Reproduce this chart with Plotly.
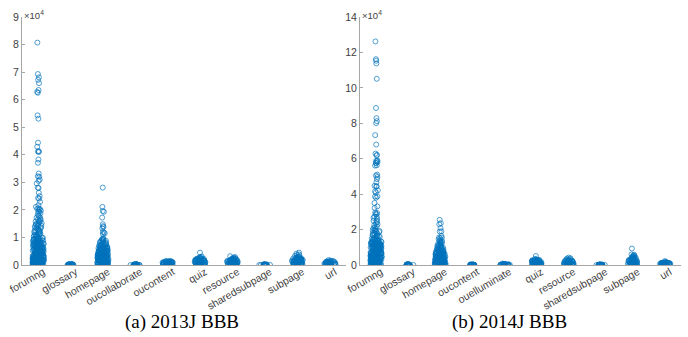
import plotly.graph_objects as go

# ---------------- categories ----------------
cats_2013 = ["forumng", "glossary", "homepage", "oucollaborate", "oucontent",
             "quiz", "resource", "sharedsubpage", "subpage", "url"]
cats_2014 = ["forumng", "glossary", "homepage", "oucontent", "ouelluminate",
             "quiz", "resource", "sharedsubpage", "subpage", "url"]

# ---------------- clicks per student, in hundreds of clicks : 2013J BBB ----------------
forumng_13 = [807,693,681,672,660,635,628,625,543,531,444,429,413,412,410,383,371,332,322,320,
              310,305,296,281,279,262,250,243,241,229,217,211,206,204,203,201,
              197,194,193,187,184,179,177,172,171,166,165,161,160,158,156,153,152,149,147,146,
              143,141,140,137,136,134,133,130,128,127,124,123,122,119,118,116,114,113,111,110,
              108,107,105,104,103,101,
              99,98,97,96,95,95,94,93,92,91,90,90,89,88,87,86,85,85,84,83,82,82,81,80,79,78,78,77,
              76,75,75,74,73,72,72,71,70,70,69,68,67,67,66,65,65,64,63,63,62,61,61,60,59,59,58,57,
              57,56,55,55,54,54,53,52,52,51,50,50,49,49,48,47,47,46,46,45,44,44,43,43,42,41,41,40,
              40,39,39,38,38,37,36,36,35,35,34,34,33,33,32,32,31,31,30,30,29,29,28,28,27,27,26,26,
              25,25,24,24,23,23,22,22,21,21,20,20,20,19,19,18,18,17,17,16,16,16,15,15,14,14,13,13,
              13,12,12,11,11,11,10,10,9,9,9,8,8,8,7,7,7,6,6,6,5,5,5,4,4,4,3,3,3,3,2,2,2,2,1,1,1,1,
              0,0,0,0,45,38,27,18,12,8,5,3,2,1,0,62,55,33,24,15,9,6,4,71,58,41,29,19,11,7,3,1,0]
glossary_13 = [3,3,3,2,2,2,2,2,1,1,1,1,1,1,1,0,0,0,0,0,0,1,2,0,1,2,0]
homepage_13 = [281,211,196,193,172,148,141,138,133,120,118,115,112,
               97,95,93,92,90,88,87,86,84,83,82,80,79,78,76,75,74,
               72,71,70,70,69,68,67,67,66,65,64,64,63,62,61,61,60,59,59,58,57,57,56,55,55,54,53,53,
               52,51,51,50,49,49,48,48,47,46,46,45,45,44,43,43,42,42,41,40,40,39,39,38,38,37,37,36,
               36,35,35,34,34,33,33,32,32,31,31,30,30,29,29,28,28,27,27,26,26,25,25,24,24,23,23,22,
               22,21,21,20,20,19,19,18,18,17,17,16,16,15,15,14,14,13,13,12,12,11,11,10,10,9,9,8,8,
               7,7,6,6,5,5,4,4,3,3,2,2,1,1,0,0,
               50,42,35,28,20,14,9,5,2,0,33,25,18,11,6,3,1,66,58,47,39,31,22,16,10,7,4,2,0]
oucollaborate_13 = [3,2,2,2,2,1,1,1,1,1,1,0,0,0,0,0,1,2,0,1,0,1,2,0]
oucontent_13 = [15,14,14,13,13,12,12,12,11,11,10,10,10,9,9,9,8,8,8,7,7,7,6,6,6,5,5,5,4,4,
                4,3,3,3,2,2,2,1,1,1,0,0,0,5,8,11,3,6,9,2]
quiz_13 = [45,31,29,27,26,25,24,23,22,22,21,20,20,19,19,18,17,17,16,16,15,15,14,14,13,13,12,12,
           11,11,10,10,9,9,8,8,7,7,6,6,5,5,4,4,3,3,2,2,1,1,0,0,12,16,21,8,4,18,14,10]
resource_13 = [32,29,27,25,24,23,22,21,21,20,19,19,18,18,17,17,16,16,15,15,14,14,13,13,12,12,11,
               11,10,10,9,9,8,8,7,7,6,6,5,5,4,4,3,3,2,2,1,1,0,0,9,13,17,6,3,11,15,20]
sharedsubpage_13 = [2,2,2,1,1,1,1,1,1,0,0,0,0,0,0,1,2,0,1,0,1,2]
subpage_13 = [45,41,38,36,33,32,30,28,27,26,25,25,24,23,23,22,22,21,20,20,19,19,18,18,17,17,16,16,
              15,15,14,14,13,13,12,12,11,11,10,10,9,9,8,8,7,7,6,6,5,5,4,4,3,3,2,2,1,1,0,0,
              12,18,22,8,4,15,20,11]
url_13 = [18,16,15,14,13,13,12,12,12,11,11,10,10,9,9,9,8,8,7,7,7,6,6,5,5,5,4,4,3,3,3,2,2,1,1,0,0,
          6,9,4,11,2]

# ---------------- clicks per student, in hundreds of clicks : 2014J BBB ----------------
forumng_14 = [1262,1162,1153,1138,1051,886,829,812,801,733,680,629,622,618,590,588,586,580,576,575,
              563,561,510,505,497,485,467,447,444,444,421,416,410,387,387,380,350,331,322,297,
              293,290,285,274,272,266,260,250,249,242,236,230,225,218,212,207,203,
              199,197,194,192,190,186,184,181,178,176,173,171,168,166,163,161,159,157,154,152,
              150,148,146,144,142,140,138,136,135,133,131,
              130,129,128,128,127,126,125,124,124,123,122,121,120,119,119,118,117,116,115,114,114,113,
              112,111,110,109,109,108,107,106,105,104,104,103,102,101,100,99,98,98,97,96,95,94,93,93,
              92,91,90,89,88,88,87,86,85,84,83,83,82,81,80,79,78,78,77,76,75,74,73,73,72,71,70,69,
              68,68,67,66,65,64,63,63,62,61,60,59,58,58,57,56,55,54,53,53,52,51,50,49,48,48,47,46,
              45,44,43,43,42,41,40,39,38,38,37,36,35,34,33,33,32,31,30,29,28,28,27,26,25,24,23,23,
              22,21,20,19,18,18,17,16,15,14,13,13,12,11,10,9,8,8,7,6,5,4,3,3,2,1,0,0,
              95,72,51,33,18,9,4,1,0,83,61,42,26,14,6,2,0,108,66,47,29,16,7,3,0]
glossary_14 = [4,3,3,3,2,2,2,2,1,1,1,1,1,0,0,0,0,0,1,2,0,1,3,0,2]
homepage_14 = [255,236,230,208,190,189,164,155,155,151,145,140,138,135,130,128,125,122,120,117,
               115,112,110,108,106,104,102,100,98,96,95,93,91,90,88,87,85,84,83,81,
               80,79,78,77,76,75,74,73,72,71,70,70,69,68,67,66,65,64,63,63,62,61,60,59,58,57,56,56,
               55,54,53,52,51,50,49,49,48,47,46,45,44,43,42,42,41,40,39,38,37,36,35,35,34,33,32,31,
               30,29,28,28,27,26,25,24,23,22,21,21,20,19,18,17,16,15,14,14,13,12,11,10,9,8,7,7,6,5,
               4,3,2,1,0,0,66,52,41,30,19,11,5,2,0,58,44,33,24,15,8,3,1,0,71,49,37,26,17,9,4,0]
oucontent_14 = [3,3,2,2,2,2,1,1,1,1,1,0,0,0,0,0,1,2,0,1,0,2]
ouelluminate_14 = [8,6,5,5,4,4,4,3,3,3,3,2,2,2,2,1,1,1,1,0,0,0,0,2,4,1,3,0]
quiz_14 = [51,34,32,30,29,28,27,26,25,25,24,23,22,22,21,20,20,19,18,18,17,17,16,15,15,14,14,13,
           12,12,11,11,10,9,9,8,8,7,6,6,5,5,4,3,3,2,2,1,0,0,15,22,27,8,4,19,12,30]
resource_14 = [42,38,36,33,31,29,28,27,25,24,23,22,22,21,20,19,18,18,17,16,16,15,14,14,13,12,12,
               11,11,10,9,9,8,7,7,6,6,5,4,4,3,3,2,1,1,0,0,12,19,25,6,3,15,21,10]
sharedsubpage_14 = [3,2,2,2,2,1,1,1,1,1,0,0,0,0,0,1,2,0,1,0,2,1]
subpage_14 = [93,60,58,55,52,49,47,45,43,41,40,38,37,35,34,33,31,30,29,28,27,26,25,24,23,22,21,20,
              19,18,18,17,16,15,14,13,12,11,10,9,8,7,6,5,5,4,3,3,2,1,1,0,0,25,36,42,15,8,31,20,11,4]
url_14 = [22,17,16,15,14,13,13,12,12,11,11,10,10,9,9,8,8,7,7,7,6,6,5,5,4,4,3,3,2,2,1,1,0,0,
          8,12,5,10,3]

series_2013 = [forumng_13, glossary_13, homepage_13, oucollaborate_13, oucontent_13,
               quiz_13, resource_13, sharedsubpage_13, subpage_13, url_13]
series_2014 = [forumng_14, glossary_14, homepage_14, oucontent_14, ouelluminate_14,
               quiz_14, resource_14, sharedsubpage_14, subpage_14, url_14]

yticks_2013 = [0, 1, 2, 3, 4, 5, 6, 7, 8, 9]
yticks_2014 = [0, 2, 4, 6, 8, 10, 12, 14]

BLUE = "#0072BD"
AXIS = "#a6a6a6"
TXT = "#404040"
FONT = "Liberation Sans"


def flatten(cats, series):
    xs, ys = [], []
    for c, vals in zip(cats, series):
        xs += [c] * len(vals)
        ys += [v / 100 for v in vals]   # hundreds of clicks -> units of 10^4
    return xs, ys


fig = go.Figure()
for cats, series, xa, ya in [(cats_2013, series_2013, "x", "y"),
                             (cats_2014, series_2014, "x2", "y2")]:
    xs, ys = flatten(cats, series)
    fig.add_trace(go.Box(
        x=xs, y=ys, xaxis=xa, yaxis=ya,
        boxpoints="all", jitter=0.72, pointpos=0,
        fillcolor="rgba(0,0,0,0)", line=dict(color="rgba(0,0,0,0)", width=0),
        marker=dict(symbol="circle-open", size=5, color=BLUE, opacity=0.8,
                    line=dict(color=BLUE, width=0.85)),
        hoveron="points", showlegend=False,
    ))

ydom = [(337 - 265) / 337, (337 - 17) / 337]
common_x = dict(showline=True, linecolor=AXIS, linewidth=1, showgrid=False, zeroline=False,
                tickangle=-30, tickfont=dict(family=FONT, size=10.5, color=TXT),
                ticklabelshift=5, ticklabelstandoff=-4,
                ticks="", range=[-0.5, 9.5], type="category", fixedrange=True, automargin=False)
common_y = dict(showline=True, linecolor=AXIS, linewidth=1, showgrid=False, zeroline=False,
                ticks="inside", ticklen=3, tickcolor=AXIS, automargin=False,
                tickfont=dict(family=FONT, size=10.5, color=TXT), fixedrange=True)

fig.update_layout(
    width=688, height=337,
    margin=dict(l=0, r=0, t=0, b=0, autoexpand=False),
    paper_bgcolor="white", plot_bgcolor="white",
    boxgap=0.3,
    xaxis=dict(domain=[22 / 688, 346 / 688], anchor="y",
               categoryorder="array", categoryarray=cats_2013, **common_x),
    yaxis=dict(domain=ydom, anchor="x", range=[0, 9], tickvals=yticks_2013, **common_y),
    xaxis2=dict(domain=[360 / 688, 681 / 688], anchor="y2",
                categoryorder="array", categoryarray=cats_2014, **common_x),
    yaxis2=dict(domain=ydom, anchor="x2", range=[0, 14], tickvals=yticks_2014, **common_y),
    annotations=[
        dict(text="×10<sup>4</sup>", xref="x domain", yref="y domain", x=0, y=1,
             xanchor="left", yanchor="bottom", showarrow=False, yshift=-6,
             font=dict(family=FONT, size=9.5, color=TXT)),
        dict(text="×10<sup>4</sup>", xref="x2 domain", yref="y2 domain", x=0, y=1,
             xanchor="left", yanchor="bottom", showarrow=False, yshift=-6,
             font=dict(family=FONT, size=9.5, color=TXT)),
        dict(text="(a) 2013J BBB", xref="paper", yref="paper", x=182 / 688, y=(337 - 322) / 337,
             xanchor="center", yanchor="middle", showarrow=False,
             font=dict(family="Liberation Serif", size=19, color="black")),
        dict(text="(b) 2014J BBB", xref="paper", yref="paper", x=509 / 688, y=(337 - 322) / 337,
             xanchor="center", yanchor="middle", showarrow=False,
             font=dict(family="Liberation Serif", size=19, color="black")),
    ],
)

fig.write_html("out.html", config={"displayModeBar": False},
               post_script="document.body.style.margin='0';")
